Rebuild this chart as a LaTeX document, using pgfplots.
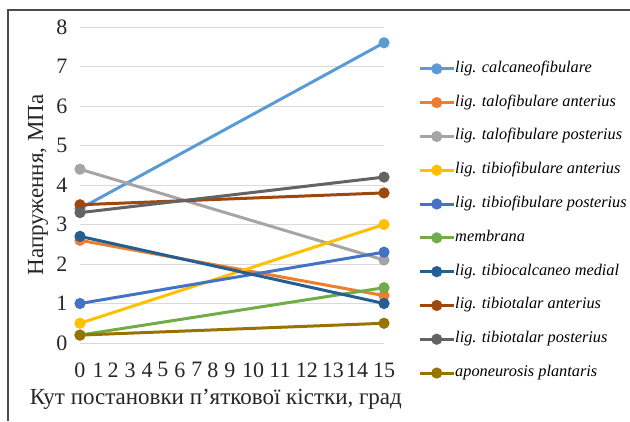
\documentclass[border=0pt]{standalone}
\usepackage{pgfplots}
\pgfplotsset{compat=1.18}
\usepackage{fontspec}
\setmainfont{Liberation Serif}
\definecolor{c1}{HTML}{5B9BD5}
\definecolor{c2}{HTML}{ED7D31}
\definecolor{c3}{HTML}{A5A5A5}
\definecolor{c4}{HTML}{FFC000}
\definecolor{c5}{HTML}{4472C4}
\definecolor{c6}{HTML}{70AD47}
\definecolor{c7}{HTML}{255E91}
\definecolor{c8}{HTML}{9E480E}
\definecolor{c9}{HTML}{636363}
\definecolor{c10}{HTML}{997300}
\begin{document}
\begin{tikzpicture}
\useasboundingbox (0pt,0pt) rectangle (630pt,421pt);
\draw[line width=1.5pt, color=black!70] (8pt,0pt) -- (8pt,411pt) -- (630pt,411pt);
\begin{axis}[
  at={(80pt,78pt)}, anchor=south west,
  scale only axis, width=304pt, height=316pt,
  xmin=0, xmax=15, ymin=0, ymax=8,
  clip=false,
  axis line style={draw=none},
  tick style={draw=none},
  ymajorgrids, grid style={color=black!15, line width=1pt},
  ytick={0,1,...,8},
  xtick={0,0.89,1.63,2.47,3.31,4.09,4.93,5.77,6.56,7.4,8.54,9.87,11.2,12.48,13.67,15},
  xticklabels={0,1,2,3,4,5,6,7,8,9,10,11,12,13,14,15},
  /pgf/number format/assume math mode=true,
  tick label style={font=\fontsize{22}{26}\selectfont, color=black!85},
  yticklabel style={xshift=-9pt},
  xticklabel style={yshift=-16pt},
  xlabel={Кут постановки п’яткової кістки, град},
  ylabel={Напруження, МПа},
  label style={font=\fontsize{23}{27}\selectfont, color=black!85},
  xlabel style={at={(axis description cs:0.447,-0.177)}, anchor=center},
  ylabel style={at={(axis description cs:-0.138,0.5)}, anchor=center},
  every axis plot/.append style={line width=3pt, mark=*, mark size=4pt},
  legend style={at={(1.112,0.892)}, anchor=north west, draw=none, fill=none,
    inner sep=0pt, row sep=18.8pt,
    nodes={inner sep=0pt, text height=11pt, text depth=4pt},
    font=\fontsize{16.3}{19}\selectfont\itshape},
  legend cell align=left,
  legend image code/.code={\draw[mark repeat=2,mark phase=2,#1] plot coordinates {(0pt,0pt) (17pt,0pt) (34pt,0pt)};},
  /tikz/every even column/.append style={column sep=4pt},
]
\addplot[color=c1, mark options={fill=c1}] coordinates {(0,3.4) (15,7.6)};
\addlegendentry{lig. calcaneofibulare}
\addplot[color=c2, mark options={fill=c2}] coordinates {(0,2.6) (15,1.2)};
\addlegendentry{lig. talofibulare anterius}
\addplot[color=c3, mark options={fill=c3}] coordinates {(0,4.4) (15,2.1)};
\addlegendentry{lig. talofibulare posterius}
\addplot[color=c4, mark options={fill=c4}] coordinates {(0,0.5) (15,3.0)};
\addlegendentry{lig. tibiofibulare anterius}
\addplot[color=c5, mark options={fill=c5}] coordinates {(0,1.0) (15,2.3)};
\addlegendentry{lig. tibiofibulare posterius}
\addplot[color=c6, mark options={fill=c6}] coordinates {(0,0.2) (15,1.4)};
\addlegendentry{membrana}
\addplot[color=c7, mark options={fill=c7}] coordinates {(0,2.7) (15,1.0)};
\addlegendentry{lig. tibiocalcaneo medial}
\addplot[color=c8, mark options={fill=c8}] coordinates {(0,3.5) (15,3.8)};
\addlegendentry{lig. tibiotalar anterius}
\addplot[color=c9, mark options={fill=c9}] coordinates {(0,3.3) (15,4.2)};
\addlegendentry{lig. tibiotalar posterius}
\addplot[color=c10, mark options={fill=c10}] coordinates {(0,0.2) (15,0.5)};
\addlegendentry{aponeurosis plantaris}
\end{axis}
\end{tikzpicture}
\end{document}
